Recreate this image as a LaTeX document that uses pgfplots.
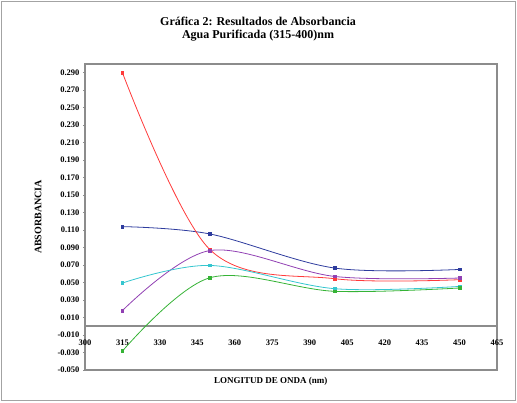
\documentclass[border=0pt]{standalone}
\usepackage{fontspec}
\setmainfont{Liberation Serif}
\usepackage{pgfplots}
\pgfplotsset{compat=1.18}
\definecolor{cblue}{HTML}{2E3C9E}
\definecolor{cred}{HTML}{FF3B3B}
\definecolor{cpurple}{HTML}{9140B3}
\definecolor{ccyan}{HTML}{35C6CF}
\definecolor{cgreen}{HTML}{36B336}
\definecolor{cframe}{HTML}{8C8C8C}

\pgfplotstableread{
x y
315 0.114
350 0.1056
400 0.0666
450 0.065
}\blue
\pgfplotstableread{
x y
315 0.290
350 0.0878
400 0.0544
450 0.0533
}\red
\pgfplotstableread{
x y
315 0.018
350 0.0866
400 0.057
450 0.0552
}\purple
\pgfplotstableread{
x y
315 0.0495
350 0.0696
400 0.043
450 0.0456
}\cyan
\pgfplotstableread{
x y
315 -0.0283
350 0.0555
400 0.040
450 0.0438
}\green

\begin{document}
\begin{tikzpicture}
\useasboundingbox (0,0) rectangle (517pt,402pt);
\draw[cframe!80, line width=1pt] (1.5pt,1.5pt) rectangle (515.5pt,400.5pt);
\begin{axis}[
  at={(85pt,32pt)}, anchor=south west,
  scale only axis, width=412pt, height=306pt,
  xmin=300, xmax=465, ymin=-0.05, ymax=0.30,
  axis line style={draw=cframe, line width=1.2pt},
  xtick={300,315,330,345,360,375,390,405,420,435,450,465},
  ytick={-0.05,-0.03,-0.01,0.01,0.03,0.05,0.07,0.09,0.11,0.13,0.15,0.17,0.19,0.21,0.23,0.25,0.27,0.29},
  scaled y ticks=false,
  ytick pos=left,
  /pgf/number format/assume math mode=true,
  yticklabel style={/pgf/number format/fixed, /pgf/number format/fixed zerofill, /pgf/number format/precision=3, font=\fontsize{8.5}{9}\selectfont\bfseries},
  xticklabel style={/pgf/number format/1000 sep={}, font=\fontsize{8.5}{9}\selectfont\bfseries, yshift=36pt},
  x tick style={draw=none},
  y tick style={draw=cframe, line width=0.8pt},
  tick align=outside, major tick length=2pt,
  title={Gráfica 2: Resultados de Absorbancia\\Agua Purificada (315-400)nm},
  title style={at={(axis description cs:0.42,1)}, anchor=south, yshift=13pt, align=center, font=\fontsize{12}{13.5}\selectfont\bfseries},
  xlabel={LONGITUD DE ONDA (nm)},
  x label style={at={(axis description cs:0.451,0)}, anchor=center, yshift=-11pt, font=\fontsize{9}{10}\selectfont\bfseries},
  ylabel={ABSORBANCIA},
  y label style={at={(axis description cs:-0.114,0.5)}, anchor=center, rotate=0, font=\fontsize{10}{11}\selectfont\bfseries},
  clip=false,
  every axis plot/.append style={smooth, tension=0.55, line width=0.8pt, mark=square*, mark size=1.4pt},
]
\addplot[cframe, line width=2.4pt, sharp plot, mark=none, forget plot] coordinates {(300,0) (465,0)};
\addplot[cblue, mark options={fill=cblue}] table {\blue};
\addplot[cred, mark options={fill=cred}] table {\red};
\addplot[cpurple, mark options={fill=cpurple}] table {\purple};
\addplot[ccyan, mark options={fill=ccyan}] table {\cyan};
\addplot[cgreen, mark options={fill=cgreen}] table {\green};
\end{axis}
\end{tikzpicture}
\end{document}
